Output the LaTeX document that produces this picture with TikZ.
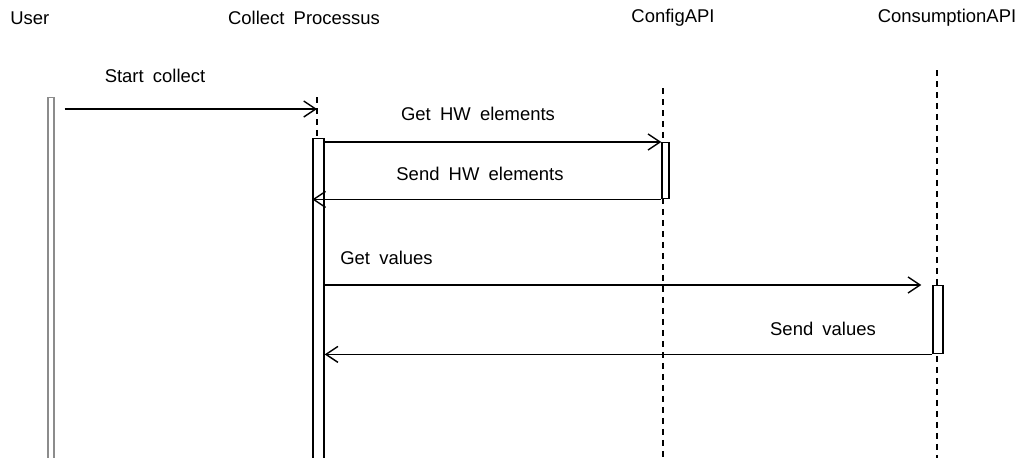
\documentclass[tikz,border=0pt]{standalone}
\usepackage{fontspec}
\setmainfont{Liberation Sans}
\usepackage{tikz}
\usetikzlibrary{arrows.meta}
\newcommand{\wgap}{\hspace{0.5em}}
\tikzstyle{actor} = [inner sep=0pt, font=\fontsize{10.5}{12}\selectfont]
\tikzstyle{msg} = [inner sep=0pt, font=\fontsize{10.5}{12}\selectfont]
\tikzstyle{bar} = [rectangle, draw=black, fill=white, line width=0.8pt, inner sep=0pt, anchor=north]
\tikzstyle{userbar} = [rectangle, draw=black!45, fill=white, line width=0.8pt, inner sep=0pt, anchor=north]
\tikzstyle{lifeline} = [line width=0.8pt, dash pattern=on 1.2mm off 1mm]
\tikzstyle{arrow} = [line width=0.8pt, -{Straight Barb[length=2.4mm, width=3.2mm]}]

\begin{document}
\begin{tikzpicture}[x=0.02cm, y=-0.02cm]
  \useasboundingbox (0,0) rectangle (1027,457);

  \node (user) [actor, anchor=west] at (10,18) {User};
  \node (collect) [actor] at (304,18) {Collect\wgap Processus};
  \node (config) [actor] at (673,18) {ConfigAPI};
  \node (consumption) [actor] at (947,18) {ConsumptionAPI};

  % lifelines
  \coordinate (collect top) at (317,97);
  \coordinate (config top) at (663,88);
  \coordinate (config end) at (663,470);
  \coordinate (cons top) at (937,70);
  \coordinate (cons end) at (937,470);
  \draw[lifeline] (config top) -- (config end);
  \draw[lifeline] (cons top) -- (cons end);

  % activation bars
  \node (user bar) [userbar, minimum width=0.12cm, minimum height=7.5cm] at (51,97) {};
  \node (collect bar) [bar, minimum width=0.22cm, minimum height=6.7cm] at (318.5,138) {};
  \node (config bar) [bar, minimum width=0.14cm, minimum height=1.12cm] at (665.5,142) {};
  \node (cons bar) [bar, minimum width=0.2cm, minimum height=1.36cm] at (938,285) {};
  \draw[lifeline] (collect top) -- (collect bar.north -| collect top);

  % messages
  \coordinate (start) at (317,109);
  \draw[arrow] ([xshift=0.2cm]user bar.east |- start) -- (start);
  \draw[arrow] (collect bar.east |- config bar.north west) -- (config bar.north west);
  \draw[arrow] (config bar.south west) -- (collect bar.west |- config bar.south west);
  \draw[arrow, shorten >=0.22cm] (collect bar.east |- cons bar.north west) -- (cons bar.north west);
  \draw[arrow] (cons bar.south west) -- (collect bar.east |- cons bar.south west);

  \node (start lbl) [msg] at (155,76) {Start\wgap collect};
  \node (gethw lbl) [msg] at (478,114) {Get\wgap HW\wgap elements};
  \node (sendhw lbl) [msg] at (480,174) {Send\wgap HW\wgap elements};
  \node (getval lbl) [msg, anchor=west] at (340,258) {Get\wgap values};
  \node (sendval lbl) [msg] at (823,329) {Send\wgap values};

\end{tikzpicture}
\end{document}
